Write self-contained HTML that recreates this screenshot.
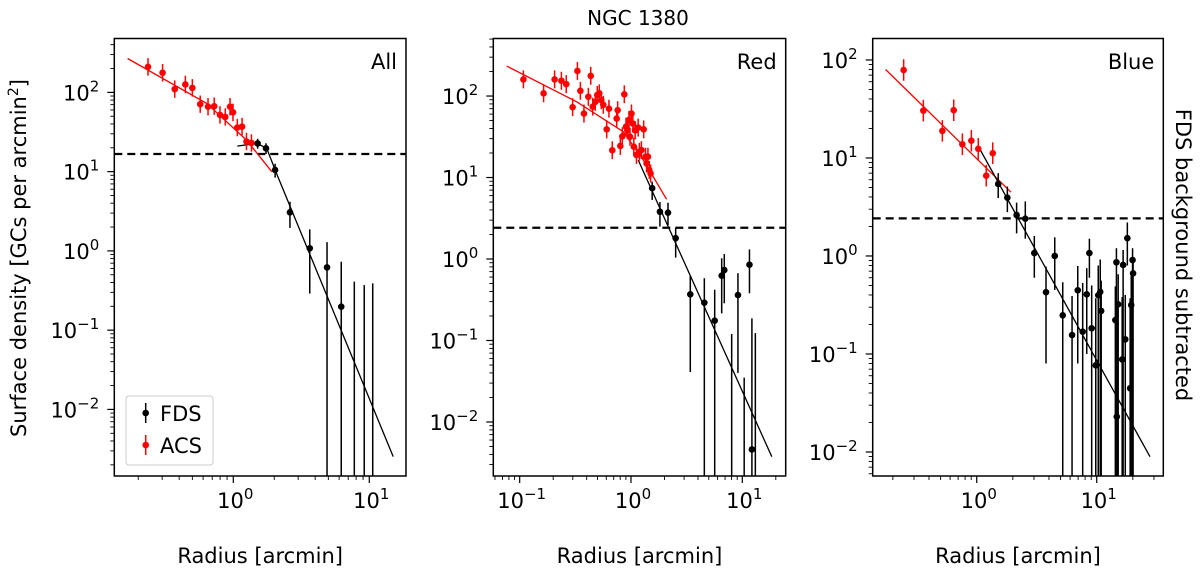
<!DOCTYPE html>
<html><head><meta charset="utf-8"><style>
html,body{margin:0;padding:0;background:#fff;}
svg text{font-family:"DejaVu Sans","Liberation Sans",sans-serif;}
</style></head><body>
<svg id="fig" width="1200" height="570" viewBox="0 0 1200 570" xmlns="http://www.w3.org/2000/svg">
<text x="638" y="25" font-size="20" text-anchor="middle">NGC 1380</text>
<text transform="translate(26,258) rotate(-90)" font-size="21" text-anchor="middle">Surface density [GCs per arcmin<tspan baseline-shift="super" font-size="14">2</tspan>]</text>
<text transform="translate(1176,255) rotate(90)" font-size="21" text-anchor="middle">FDS background subtracted</text>
</svg>
<script>
// ---------- Panel "All" ----------
const allAcsR = [0.236,0.302,0.371,0.444,0.5,0.571,0.652,0.724,0.798,0.873,0.946,0.995,1.07,1.16,1.25,1.36];
const allAcsY = [210,177,110,126,114,71,66,67,52,49,66,56,36,37,24,23];
const allFdsR = [1.51,1.74,2.03,2.61,3.65,4.89,6.22,7.76,9.18,10.6];
const allFdsY = [22.7,19.7,10.5,3.07,1.08,0.62,0.198,0,0,0];
const allFdsLo = [19.5,16.7,8.4,1.95,0.29,0,0,0,0,0];
const allFdsHi = [26,22.8,12.6,4.17,1.87,1.29,0.73,0.41,0.37,0.39];
const allAcsModelR = [0.167,0.637,1.25,1.92];
const allAcsModelY = [268,72.7,25,10];
const allFdsModelR = [1.07,1.49,1.76,2.08,15.0];
const allFdsModelY = [21,22.8,19.7,9.5,0.00254];
const allBackground = 16.7;

// ---------- Panel "Red" ----------
const redAcsR = [0.108,0.164,0.206,0.237,0.262,0.299,0.33,0.351,0.378,0.414,0.435,0.453,0.478,0.498,0.519,0.541,0.564,0.605,0.634,0.679,0.744,0.759,0.802,0.836,0.871,0.902,0.927,0.96,0.98,1.01,1.04,1.06,1.09,1.12,1.16,1.19,1.24,1.3,1.35,1.38,1.42,1.46,1.5];
const redAcsY = [160,108,160,154,140,73,203,116,61,98,177,74,85,103,108,89,78,39,70,21.6,53,67,24.4,32,105,42,38,51,31.7,61,46,23.9,38,18.9,41,20.7,21.7,39,18,14.9,18,12.4,11.2];
const redFdsR = [1.55,1.82,2.15,2.52,3.41,4.56,5.65,6.53,6.89,9.14,11.6,12.2,8.03,10.4,13.1];
const redFdsY = [7.4,3.8,3.7,1.8,0.369,0.291,0.175,0.624,0.733,0.361,0.851,0.0046,0,0,0];
const redFdsLo = [5.3,2.5,2.6,1.04,0.041,0,0,0.215,0.286,0.04,0.38,0,0,0,0];
const redFdsHi = [8.9,5.0,4.9,2.4,0.62,0.58,0.42,1.02,1.15,0.67,1.31,0.187,0.12,0.035,0.123];
const redAcsModelR = [0.0764,0.325,0.853,1.29,2.09];
const redAcsModelY = [233,85,36.5,16.4,5.4];
const redFdsModelR = [1.16,18.4];
const redFdsModelY = [16.4,0.00375];
const redBackground = 2.42;

// ---------- Panel "Blue" ----------
const blueAcsR = [0.246,0.359,0.517,0.643,0.759,0.902,1.03,1.2,1.36];
const blueAcsY = [79,30.4,18.9,30.7,13.8,15.0,12.4,6.6,11.2];
const blueFdsR = [1.51,1.8,2.15,2.54,3.02,3.78,4.47,5.21,6.23,6.95,7.64,8.26,8.69,9.08,9.82,10.3,10.7,10.9,14.3,14.6,15.1,16.6,18.0,19.4,19.9,20.1,14.7,17.3,16.3,19.0];
const blueFdsY = [5.43,3.93,2.62,2.4,1.07,0.427,1.0,0.248,0.156,0.447,0.169,0.406,1.07,0.183,0.0766,0.398,0.43,0.275,0.222,0.863,0.321,0.81,1.52,0.316,0.91,0.665,0.0229,0.141,0.088,0.0447];
const blueFdsLo = [3.9,2.8,1.7,1.5,0.6,0.08,0.45,0,0,0.08,0,0.1,0.6,0,0,0,0,0,0,0.28,0,0,0.8,0,0,0,0,0,0,0];
const blueFdsHi = [7.0,5.1,3.5,3.6,1.6,0.78,1.55,0.54,0.39,0.79,0.53,0.75,1.5,0.5,0.37,0.8,0.92,0.56,0.49,1.2,0.65,1.15,2.2,0.65,1.2,0.95,0.33,0.4,0.38,0.37];
const blueAcsModelR = [0.174,1.93];
const blueAcsModelY = [80,4.47];
const blueFdsModelR = [1.07,27.8];
const blueFdsModelY = [12.1,0.00895];
const blueBackground = 2.42;

const acsErrDex = 0.11;
const yTickExps = [-2,-1,0,1,2];

const NS = "http://www.w3.org/2000/svg";
const svg = document.getElementById('fig');
function mk(tag, attrs, parent){
  const e = document.createElementNS(NS, tag);
  for (const k in attrs) e.setAttribute(k, attrs[k]);
  (parent||svg).appendChild(e);
  return e;
}

function panel(cfg){
  const g = mk('g', {});
  
  
  const L=cfg.left, R=cfg.right, T=38.5, B=476;
  const sx = v => L + (Math.log10(v)-cfg.x0)/(cfg.x1-cfg.x0)*(R-L);
  const sy = v => B - (Math.log10(v)-cfg.y0)/(cfg.y1-cfg.y0)*(B-T);
  const clipId = 'clip-'+cfg.name;
  const cp = mk('clipPath', {id: clipId}, g);
  mk('rect', {x:L, y:T, width:R-L, height:B-T}, cp);
  const plot = mk('g', {'clip-path':'url(#'+clipId+')'}, g);
  const bg = mk('line', {x1:L, x2:R, y1:sy(cfg.bg), y2:sy(cfg.bg), stroke:'#000', 'stroke-width':2.2, 'stroke-dasharray':'8,5'}, plot);
  
  
  function model(rs, ys, color, nm){
    const p = rs.map((r,i)=>sx(r).toFixed(1)+','+sy(ys[i]).toFixed(1)).join(' ');
    const pl = mk('polyline', {points:p, fill:'none', stroke:color, 'stroke-width':1.3}, plot);
    
    
  }
  model(cfg.acsMR, cfg.acsMY, '#ff0000', 'acs-model-line');
  model(cfg.fdsMR, cfg.fdsMY, '#000', 'fds-model-line');
  cfg.acsR.forEach((r,i)=>{
    const y = cfg.acsY[i];
    const x = sx(r);
    const e = mk('line', {x1:x, x2:x, y1:sy(y*Math.pow(10,acsErrDex)), y2:sy(y/Math.pow(10,acsErrDex)), stroke:'#ff0000', 'stroke-width':1.5}, plot);
    
    
    const c = mk('circle', {cx:x, cy:sy(y), r:3.3, fill:'#ff0000'}, plot);
    
    
  });
  cfg.fdsR.forEach((r,i)=>{
    const x = sx(r);
    const lo = cfg.fdsLo[i] > 0 ? sy(cfg.fdsLo[i]) : B+5;
    const e = mk('line', {x1:x, x2:x, y1:sy(cfg.fdsHi[i]), y2:lo, stroke:'#000', 'stroke-width':1.5}, plot);
    
    
    if (cfg.fdsY[i] > 0){
      const c = mk('circle', {cx:x, cy:sy(cfg.fdsY[i]), r:3.3, fill:'#000'}, plot);
      
      
    }
  });
  const fr = mk('rect', {x:L, y:T, width:R-L, height:B-T, fill:'none', stroke:'#000', 'stroke-width':1.5}, g);
  
  
  for (let k=Math.floor(cfg.y0); k<=Math.ceil(cfg.y1); k++){
    for (let m=1; m<10; m++){
      const lv = k + Math.log10(m);
      if (lv < cfg.y0 || lv > cfg.y1) continue;
      const y = sy(Math.pow(10,lv));
      mk('line', {x1:L, x2:L-(m===1?7:4), y1:y, y2:y, stroke:'#000', 'stroke-width':m===1?1.2:0.9}, g);
    }
  }
  yTickExps.forEach(k=>{
    if (k < cfg.y0 || k > cfg.y1) return;
    const t = mk('text', {x:L-15, y:sy(Math.pow(10,k))+8, 'font-size':21, 'text-anchor':'end'}, g);
    
    
    t.appendChild(document.createTextNode('10'));
    const s = mk('tspan', {dy:-9, 'font-size':15}, t);
    s.textContent = k<0 ? '\u2212'+(-k) : String(k);
  });
  for (let k=Math.floor(cfg.x0); k<=Math.ceil(cfg.x1); k++){
    for (let m=1; m<10; m++){
      const lv = k + Math.log10(m);
      if (lv < cfg.x0 || lv > cfg.x1) continue;
      const x = sx(Math.pow(10,lv));
      mk('line', {x1:x, x2:x, y1:B, y2:B+(m===1?7:4), stroke:'#000', 'stroke-width':m===1?1.2:0.9}, g);
      if (m===1){
        const t = mk('text', {x:x+2, y:B+32, 'font-size':21, 'text-anchor':'middle'}, g);
        
        
        t.appendChild(document.createTextNode('10'));
        const s = mk('tspan', {dy:-9, 'font-size':15}, t);
        s.textContent = k<0 ? '\u2212'+(-k) : String(k);
      }
    }
  }
  const xl = mk('text', {x:(L+R)/2, y:563, 'font-size':21, 'text-anchor':'middle'}, g);
  
  
  xl.textContent = 'Radius [arcmin]';
  const pt = mk('text', {x:R-9, y:69, 'font-size':21, 'text-anchor':'end'}, g);
  
  
  pt.textContent = cfg.label;
}

panel({name:'panel-all', label:'All', left:114.3, right:406, x0:-0.875, x1:1.27, y0:-2.84, y1:2.68,
  acsR:allAcsR, acsY:allAcsY, fdsR:allFdsR, fdsY:allFdsY, fdsLo:allFdsLo, fdsHi:allFdsHi,
  acsMR:allAcsModelR, acsMY:allAcsModelY, fdsMR:allFdsModelR, fdsMY:allFdsModelY, bg:allBackground});
panel({name:'panel-red', label:'Red', left:493.3, right:785.7, x0:-1.237, x1:1.39, y0:-2.663, y1:2.706,
  acsR:redAcsR, acsY:redAcsY, fdsR:redFdsR, fdsY:redFdsY, fdsLo:redFdsLo, fdsHi:redFdsHi,
  acsMR:redAcsModelR, acsMY:redAcsModelY, fdsMR:redFdsModelR, fdsMY:redFdsModelY, bg:redBackground});
panel({name:'panel-blue', label:'Blue', left:872.7, right:1163.3, x0:-0.867, x1:1.555, y0:-2.245, y1:2.219,
  acsR:blueAcsR, acsY:blueAcsY, fdsR:blueFdsR, fdsY:blueFdsY, fdsLo:blueFdsLo, fdsHi:blueFdsHi,
  acsMR:blueAcsModelR, acsMY:blueAcsModelY, fdsMR:blueFdsModelR, fdsMY:blueFdsModelY, bg:blueBackground});

const lg = mk('g', {});


mk('rect', {x:126, y:396, width:87, height:69, rx:3, fill:'#fff', 'fill-opacity':0.8, stroke:'#ccc', 'stroke-width':1}, lg);
[['FDS','#000',413],['ACS','#ff0000',445]].forEach(([t,c,y])=>{
  const e = mk('g', {}, lg);
  
  
  mk('line', {x1:145.7, x2:145.7, y1:y-10, y2:y+10, stroke:c, 'stroke-width':1.5}, e);
  mk('circle', {cx:145.7, cy:y, r:3.3, fill:c}, e);
  const tx = mk('text', {x:160, y:y+8, 'font-size':21}, e);
  tx.textContent = t;
});
</script>
</body></html>
